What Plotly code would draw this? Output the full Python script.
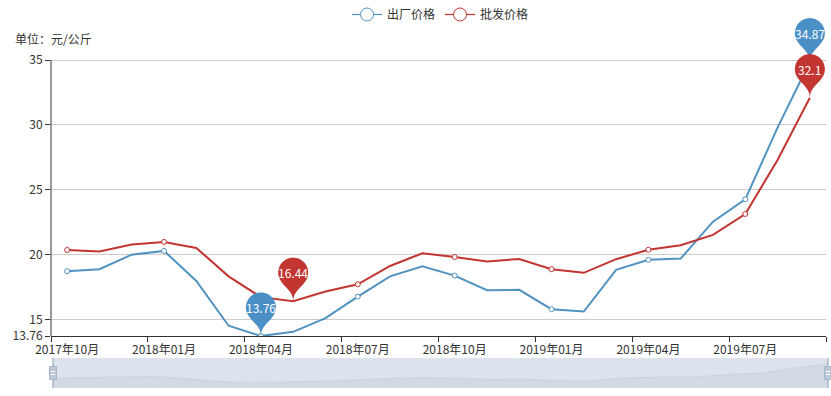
import math
import plotly.graph_objects as go

# ---------------- data ----------------
categories = ["2017年10月", "2017年11月", "2017年12月", "2018年01月", "2018年02月", "2018年03月",
              "2018年04月", "2018年05月", "2018年06月", "2018年07月", "2018年08月", "2018年09月",
              "2018年10月", "2018年11月", "2018年12月", "2019年01月", "2019年02月", "2019年03月",
              "2019年04月", "2019年05月", "2019年06月", "2019年07月", "2019年08月", "2019年09月"]
factory_price = [18.75, 18.90, 20.02, 20.31, 18.00, 14.55, 13.76, 14.08, 15.13, 16.79, 18.35, 19.12,
                 18.41, 17.28, 17.31, 15.82, 15.64, 18.85, 19.62, 19.72, 22.56, 24.28, 29.80, 34.87]
wholesale_price = [20.38, 20.27, 20.80, 21.00, 20.54, 18.35, 16.75, 16.44, 17.18, 17.74, 19.15, 20.13,
                   19.84, 19.49, 19.69, 18.90, 18.62, 19.67, 20.40, 20.74, 21.54, 23.15, 27.30, 32.10]
series_names = ["出厂价格", "批发价格"]
y_ticks = [15, 20, 25, 30, 35]
unit_label = "单位：元/公斤"

BLUE_LINE = "#5193c0"
BLUE_PIN = "#4a90c6"
RED_LINE = "#c23531"
RED_PIN = "#c23531"
FONT = "Noto Sans CJK SC, Noto Sans, sans-serif"
TXT = "#333"

n = len(categories)
idx = list(range(n))
step = 3

# ---------------- geometry ----------------
W, H = 831, 396
ML, MR, MT, MB = 51, 3, 15, 6
PW = W - ML - MR          # 777
PH = H - MT - MB          # 375
main_px_w = 775           # main plot width
main_bottom_px = 336      # pixel y of x axis
y_axis_top_px = 60        # pixel y of value 35
ymin = min(factory_price)
ymax_tick = max(y_ticks)
px_per_unit = (main_bottom_px - y_axis_top_px) / (ymax_tick - ymin)
y_range_top = ymax_tick + (y_axis_top_px - MT) / px_per_unit

fig = go.Figure()

series = [(series_names[0], factory_price, BLUE_LINE, BLUE_PIN),
          (series_names[1], wholesale_price, RED_LINE, RED_PIN)]

for name, vals, lc, pc in series:
    fig.add_trace(go.Scatter(x=idx, y=vals, mode="lines", line=dict(color=lc, width=2),
                             showlegend=False, hoverinfo="skip", xaxis="x", yaxis="y"))
    fig.add_trace(go.Scatter(x=idx[::step], y=vals[::step], mode="markers",
                             marker=dict(symbol="circle", size=5, color="white",
                                         line=dict(color=lc, width=1)),
                             showlegend=False, hoverinfo="skip", xaxis="x", yaxis="y"))

# legend entries
for name, vals, lc, pc in series:
    fig.add_trace(go.Scatter(x=[None], y=[None], mode="lines+markers", name=name,
                             line=dict(color=lc, width=1.2),
                             marker=dict(symbol="circle", size=13, color="white",
                                         line=dict(color=lc, width=1)),
                             xaxis="x", yaxis="y"))

# data-zoom shadow
lo, hi = min(factory_price), max(factory_price)
pad = (hi - lo) * 0.3
fig.add_trace(go.Scatter(x=idx, y=factory_price, mode="lines", fill="tozeroy",
                         line=dict(color="rgba(47,69,84,0.15)", width=0.5),
                         fillcolor="rgba(47,69,84,0.055)",
                         showlegend=False, hoverinfo="skip", xaxis="x2", yaxis="y2"))

# ---------------- pin markers ----------------
def pin_path(size=50):
    w = size / 5 * 3
    h = max(w, size)
    r = w / 2
    dy = r * r / (h - r)
    cy = h - r - dy
    a = math.asin(dy / r)
    dx = math.cos(a) * r
    tx, ty = math.sin(a), math.cos(a)
    cp1, cp2 = r * 0.6, r * 0.7
    pts = []
    N = 40
    for k in range(N + 1):
        th = (math.pi + a) - k * (math.pi + 2 * a) / N
        pts.append((r * math.cos(th), cy + r * math.sin(th)))
    p = "M%.2f,%.2f " % pts[0] + " ".join("L%.2f,%.2f" % q for q in pts[1:])
    p += " C%.2f,%.2f %.2f,%.2f %.2f,%.2f" % (dx - tx * cp1, cy - dy - ty * cp1, 0, cp2, 0, 0)
    p += " C%.2f,%.2f %.2f,%.2f %.2f,%.2f Z" % (0, cp2, -dx + tx * cp1, cy - dy - ty * cp1, -dx, cy - dy)
    return p, cy

PIN, PIN_CY = pin_path(50)
shapes = []
annotations = []
for name, vals, lc, pc in series:
    for fn in (min, max):
        v = fn(vals)
        i = vals.index(v)
        shapes.append(dict(type="path", xref="x", yref="y", xsizemode="pixel", ysizemode="pixel",
                           xanchor=i, yanchor=v, path=PIN, fillcolor=pc,
                           line=dict(width=0), layer="above"))
        annotations.append(dict(x=i, y=v, xref="x", yref="y", yshift=PIN_CY, showarrow=False,
                                text="%g" % v, font=dict(family=FONT, size=12, color="white")))

# y axis line (from data min to top tick)
shapes.append(dict(type="line", xref="x domain", yref="y", x0=0, x1=0, y0=ymin, y1=ymax_tick,
                   line=dict(color=TXT, width=1), layer="above"))

# slider background and handles
shapes.append(dict(type="rect", xref="x2 domain", yref="y2 domain", x0=0, x1=1, y0=0, y1=1,
                   fillcolor="#dde3ec", line=dict(width=0), layer="below"))
for hx in (0, 1):
    shapes.append(dict(type="line", xref="x2 domain", yref="y2 domain", x0=hx, x1=hx, y0=0, y1=1,
                       line=dict(color="#a7b7cc", width=1.5), layer="above"))
    shapes.append(dict(type="rect", xref="x2 domain", yref="y2 domain", xsizemode="pixel",
                       ysizemode="pixel", xanchor=hx, yanchor=0.5, x0=-3.5, x1=3.5, y0=-6.5, y1=6.5,
                       fillcolor="#bcc8d6", line=dict(color="#a7b7cc", width=1), layer="above"))
    for ly in (-1.5, 1.5):
        shapes.append(dict(type="line", xref="x2 domain", yref="y2 domain", xsizemode="pixel",
                           ysizemode="pixel", xanchor=hx, yanchor=0.5, x0=-2, x1=2, y0=ly, y1=ly,
                           line=dict(color="#ffffff", width=1), layer="above"))

annotations.append(dict(text=unit_label, xref="paper", yref="paper",
                        x=(13 - ML) / PW, y=(H - MB - 38) / PH, xanchor="left", yanchor="middle",
                        showarrow=False, font=dict(family=FONT, size=12, color=TXT)))

y_tickvals = [ymin] + y_ticks
y_ticktext = ["%g" % ymin] + [str(t) for t in y_ticks]

fig.update_layout(
    width=W, height=H,
    margin=dict(l=ML, r=MR, t=MT, b=MB, pad=0, autoexpand=False),
    paper_bgcolor="white", plot_bgcolor="white",
    font=dict(family=FONT, size=12, color=TXT),
    showlegend=True,
    legend=dict(orientation="h", x=440.5 / W, xanchor="center", xref="container",
                y=1.0, yanchor="top", yref="container",
                font=dict(family=FONT, size=12, color=TXT), bgcolor="rgba(0,0,0,0)",
                itemclick=False, itemdoubleclick=False),
    xaxis=dict(domain=[0, main_px_w / PW], range=[-0.5, n - 0.5], anchor="y", automargin=False,
               tickmode="array", tickvals=idx[::step], ticktext=categories[::step], ticks="",
               ticklabelstandoff=3,
               showgrid=False, zeroline=False, showline=True, linecolor=TXT, linewidth=1,
               tickfont=dict(family=FONT, size=12, color=TXT),
               minor=dict(tickmode="array", tickvals=[i - 0.5 for i in range(0, n + 1, step)],
                          ticks="outside", ticklen=5, tickcolor=TXT, tickwidth=1, showgrid=False)),
    yaxis=dict(domain=[(H - MB - main_bottom_px) / PH, 1], range=[ymin, y_range_top], anchor="x",
               automargin=False,
               tickmode="array", tickvals=y_tickvals, ticktext=y_ticktext,
               ticks="outside", ticklen=5, tickcolor=TXT, tickwidth=1,
               showgrid=True, gridcolor="#cccccc", gridwidth=1, zeroline=False, showline=False,
               tickfont=dict(family=FONT, size=12, color=TXT)),
    xaxis2=dict(domain=[2 / PW, 1], range=[0, n - 1], anchor="y2", visible=False, fixedrange=True,
                automargin=False),
    yaxis2=dict(domain=[(H - MB - 388) / PH, (H - MB - 358) / PH], range=[lo - pad, hi + pad],
                anchor="x2", visible=False, fixedrange=True, automargin=False),
    shapes=shapes,
    annotations=annotations,
)

fig.write_html("out.html", config={"displayModeBar": False},
               post_script="document.body.style.margin='0';")
